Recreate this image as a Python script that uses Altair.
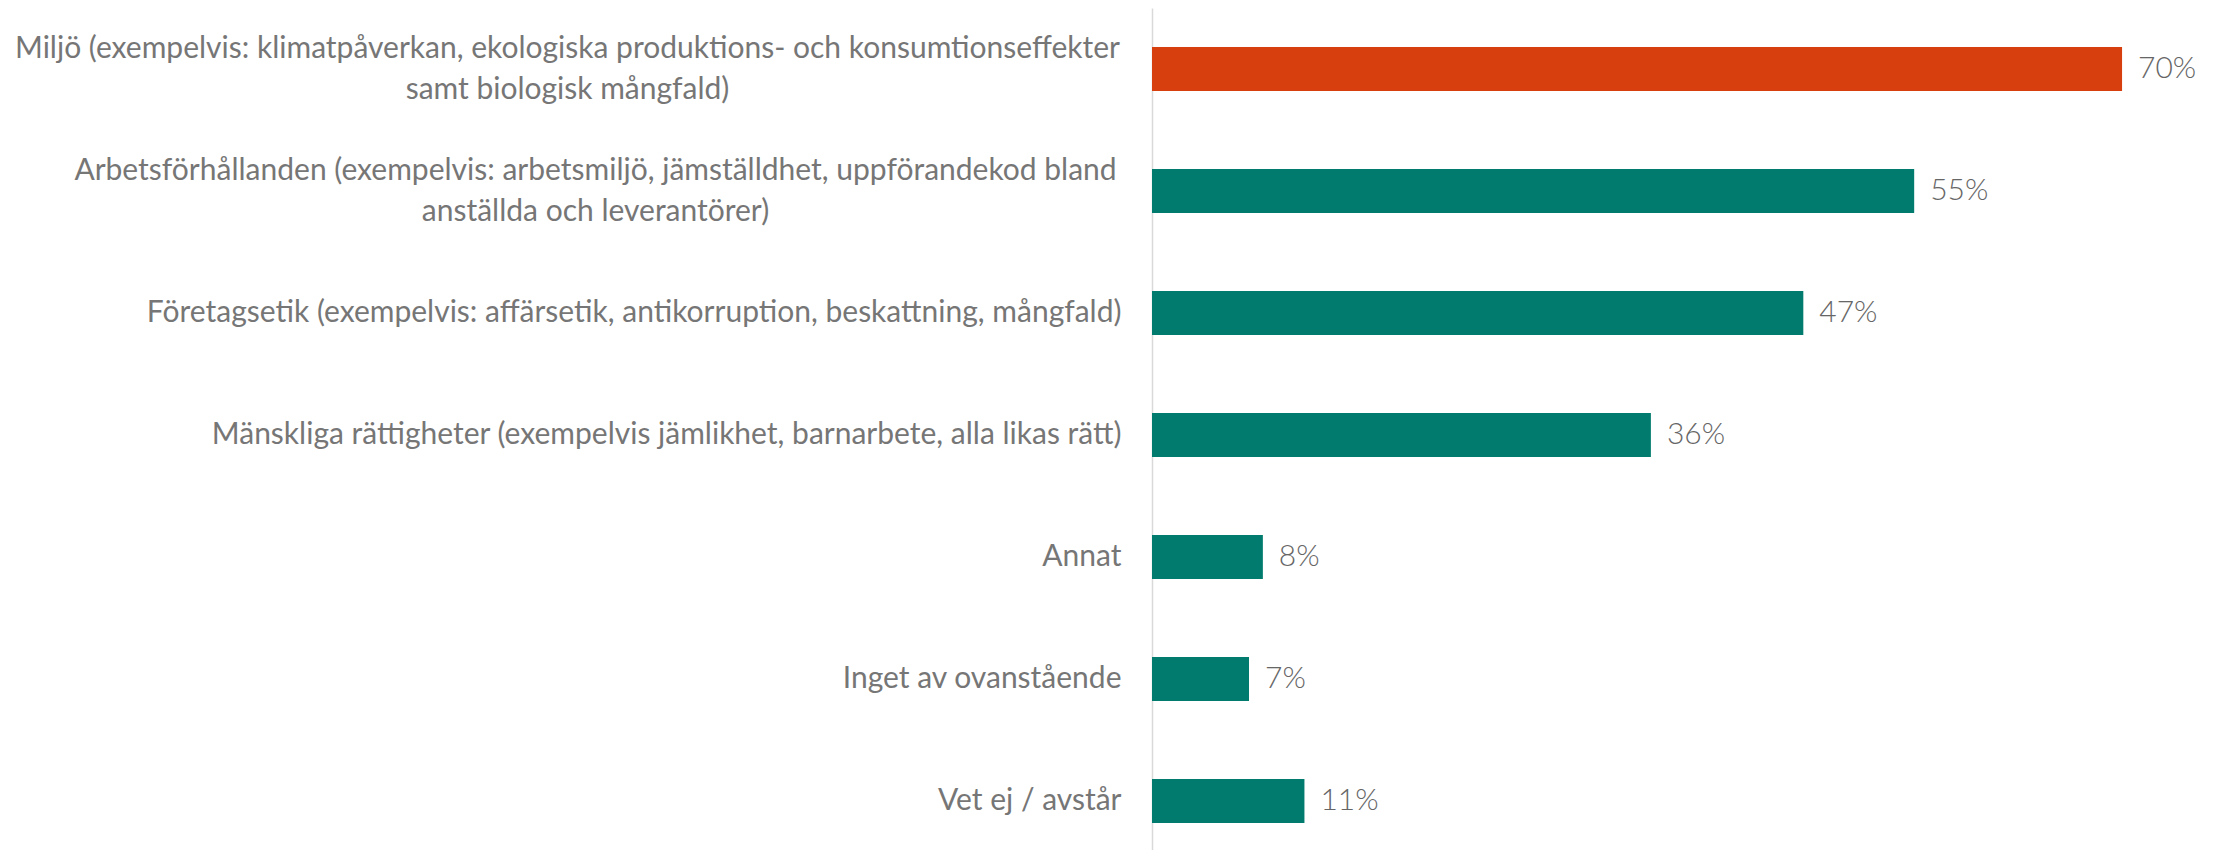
import altair as alt
import pandas as pd

categories = [
    "Miljö (exempelvis: klimatpåverkan, ekologiska produktions- och konsumtionseffekter\nsamt biologisk mångfald)",
    "Arbetsförhållanden (exempelvis: arbetsmiljö, jämställdhet, uppförandekod bland\nanställda och leverantörer)",
    "Företagsetik (exempelvis: affärsetik, antikorruption, beskattning, mångfald)",
    "Mänskliga rättigheter (exempelvis jämlikhet, barnarbete, alla likas rätt)",
    "Annat",
    "Inget av ovanstående",
    "Vet ej / avstår",
]
values = [70, 55, 47, 36, 8, 7, 11]
highlight = ["ja", "nej", "nej", "nej", "nej", "nej", "nej"]

df = pd.DataFrame({"kat": categories, "v": values, "hl": highlight})

LABEL_FONT = "Lato"
LABEL_COLOR = "#767676"

y_enc = alt.Y(
    "kat:N",
    sort=None,
    scale=alt.Scale(paddingInner=0.6393, paddingOuter=0.2705, align=0.591),
    axis=alt.Axis(
        title=None,
        ticks=False,
        grid=False,
        domain=True,
        domainColor="#D9D9D9",
        domainWidth=1.5,
        labelFont=LABEL_FONT,
        labelFontSize=30,
        labelColor=LABEL_COLOR,
        labelLimit=2000,
        labelLineHeight=41,
        labelBaseline="middle",
        labelExpr="split(datum.label, '\\n')",
        labelAlign={"expr": "indexof(datum.value, '\\n') >= 0 ? 'center' : 'right'"},
        labelOffset={"expr": "indexof(datum.value, '\\n') >= 0 ? -20.5 : 0"},
        labelPadding={"expr": "indexof(datum.value, 'Miljö') >= 0 ? 585 : (indexof(datum.value, 'Arbets') >= 0 ? 557 : 31)"},
        minExtent=1144,
        maxExtent=1144,
    ),
)

x_enc = alt.X("v:Q", scale=alt.Scale(domain=[0, 76.13], nice=False, zero=True), axis=None)

base = alt.Chart(df)

bars = base.mark_bar().encode(
    y=y_enc,
    x=x_enc,
    color=alt.Color(
        "hl:N",
        scale=alt.Scale(domain=["ja", "nej"], range=["#D73F0F", "#007B6D"]),
        legend=None,
    ),
)

texts = base.transform_calculate(lbl="datum.v + '%'").mark_text(
    align="left",
    baseline="middle",
    dx=16,
    font=LABEL_FONT,
    fontSize=30,
    fontWeight=300,
    color="#666666",
).encode(y=alt.Y("kat:N", sort=None), x="v:Q", text="lbl:N")

chart = (
    alt.layer(bars, texts)
    .properties(width=1055, height=842, padding=0, background="white")
    .configure_view(stroke=None)
)

chart.save("out.html", embed_options={"renderer": "svg", "actions": False})
